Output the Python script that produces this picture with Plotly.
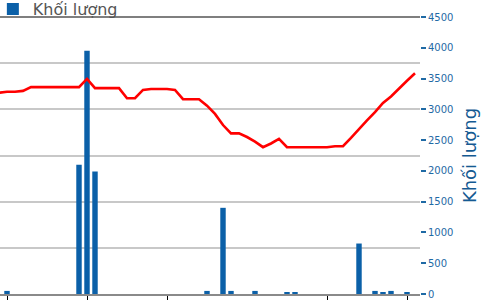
import plotly.graph_objects as go

# Trading-day index (0 = first visible session)
days = list(range(-1, 52))

# Closing price (thousand VND)
price = [21.8, 21.9, 21.9, 22.0, 22.4, 22.4, 22.4, 22.4, 22.4, 22.4, 22.4,
         23.3, 22.3, 22.3, 22.3, 22.3, 21.2, 21.2, 22.1, 22.2, 22.2, 22.2,
         22.1, 21.1, 21.1, 21.1, 20.4, 19.5, 18.3, 17.4, 17.4, 17.0, 16.5,
         15.9, 16.3, 16.8, 15.9, 15.9, 15.9, 15.9, 15.9, 15.9, 16.0, 16.0,
         16.9, 17.9, 18.8, 19.7, 20.7, 21.4, 22.3, 23.1, 23.9]

# Trading volume ("Khối lượng")
volume = [0, 50, 0, 0, 0, 0, 0, 0, 0, 0, 2100,
          3950, 1990, 0, 0, 0, 0, 0, 0, 0, 0,
          0, 0, 0, 0, 0, 50, 0, 1400, 50, 0,
          0, 50, 0, 0, 0, 30, 30, 0, 0, 0,
          0, 0, 0, 0, 820, 0, 50, 30, 50, 0,
          30, 0]

x_ticks = [0, 10, 20, 40, 50]
vol_ticks = [0, 500, 1000, 1500, 2000, 2500, 3000, 3500, 4000, 4500]

fig = go.Figure()
fig.add_trace(go.Bar(
    x=days, y=volume, name="Khối lượng", yaxis="y",
    marker=dict(color="#0b60a8", line=dict(width=0)),
    width=0.68, showlegend=True,
))
fig.add_trace(go.Scatter(
    x=days, y=price, mode="lines", yaxis="y2", showlegend=False,
    line=dict(color="#ff0000", width=2.6),
))

fig.update_layout(
    width=501, height=300,
    margin=dict(l=0, r=81, t=17, b=6, autoexpand=False),
    paper_bgcolor="white", plot_bgcolor="white",
    font=dict(family="DejaVu Sans", size=10, color="#1f6aa5"),
    bargap=0.3,
    xaxis=dict(range=[-0.875, 51.625], tickvals=x_ticks, showticklabels=False,
               ticks="outside", ticklen=4, tickcolor="#000", tickwidth=1,
               showline=True, linecolor="#8a8a8a", linewidth=2,
               showgrid=False, zeroline=False),
    yaxis=dict(side="right", range=[0, 4500], tickvals=vol_ticks,
               ticks="outside", ticklen=5, tickcolor="#1f6aa5", tickwidth=2,
               tickfont=dict(family="DejaVu Sans", size=10, color="#1f6aa5"),
               showgrid=False, zeroline=False, showline=False,
               title=dict(text="Khối lượng", standoff=10,
                          font=dict(family="DejaVu Sans", size=18, color="#155a92"))),
    yaxis2=dict(overlaying="y", side="left", range=[0, 30], dtick=5,
                showticklabels=False, ticks="", showgrid=True,
                gridcolor="#c8c8c8", gridwidth=1.5, zeroline=False, showline=False),
    legend=dict(x=-0.017, xanchor="left", y=1.09, yref="paper", yanchor="top",
                orientation="h", bgcolor="rgba(0,0,0,0)",
                font=dict(family="DejaVu Sans", size=16, color="#555555")),
    shapes=[dict(type="line", xref="paper", yref="paper", x0=0, x1=1, y0=1, y1=1,
                 line=dict(color="#555555", width=1.5))],
)

fig.write_html("out.html")
